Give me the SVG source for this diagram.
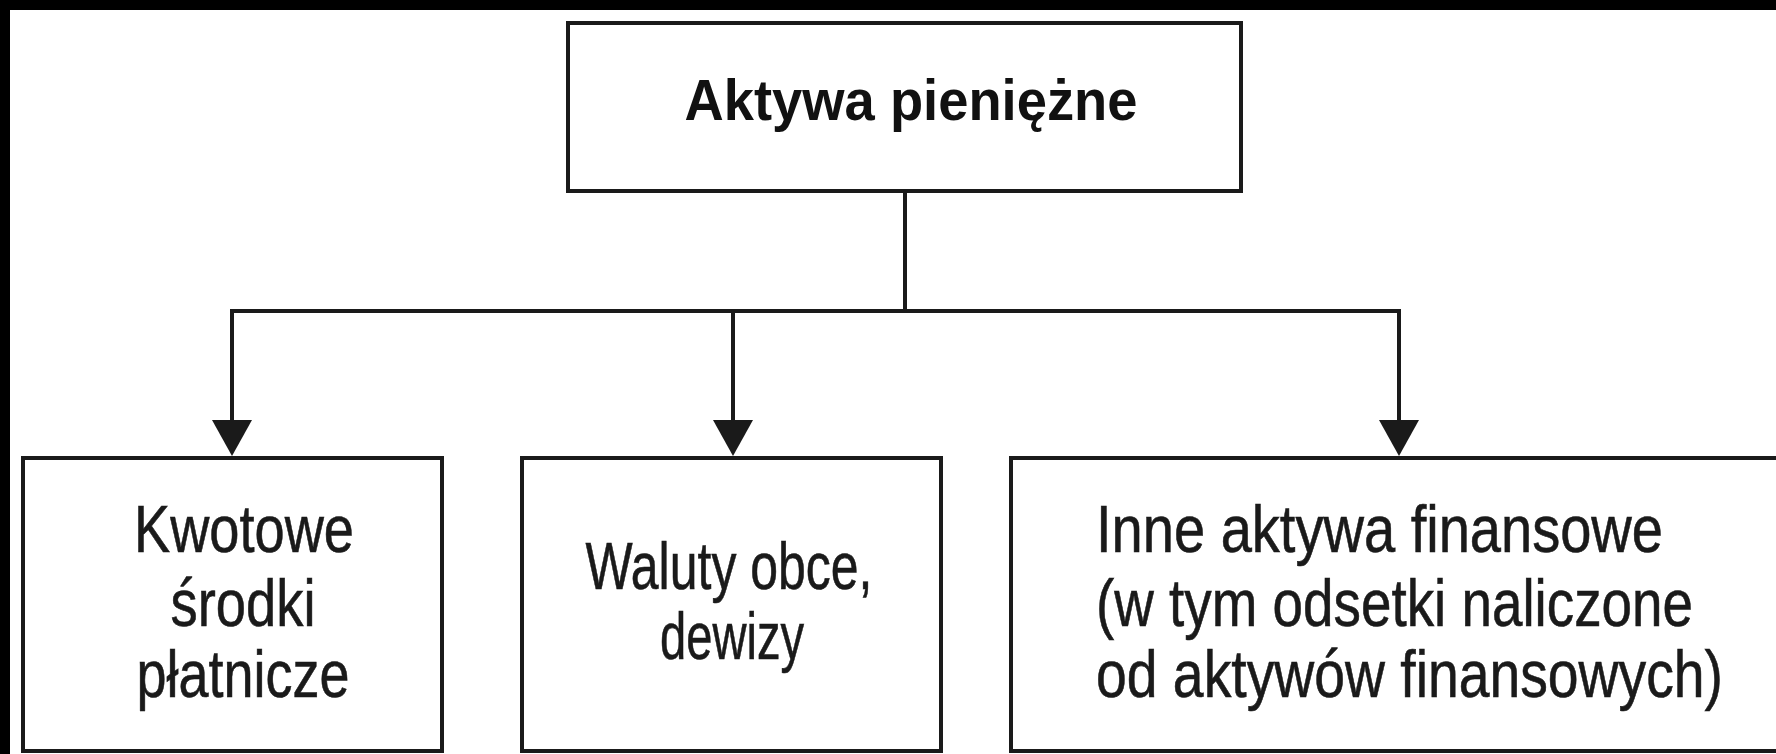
<svg xmlns="http://www.w3.org/2000/svg" width="1776" height="754" viewBox="0 0 1776 754">
  <style>
    .box { fill: #ffffff; stroke: #1a1a1a; stroke-width: 4; }
    .conn { fill: none; stroke: #1a1a1a; stroke-width: 4; }
    .t { font-family: "Liberation Sans", Arial, sans-serif; font-size: 66px; fill: #1a1a1a; stroke: #1a1a1a; stroke-width: 0.6; }
    .title { font-family: "Liberation Sans", Arial, sans-serif; font-size: 58px; font-weight: bold; fill: #111111; }
  </style>
  <defs>
    <marker id="arrow" viewBox="0 0 36 40" refX="20" refY="20" markerWidth="36" markerHeight="40" markerUnits="userSpaceOnUse" orient="auto">
      <path d="M0,0 L36,20 L0,40 z" fill="#1a1a1a"/>
    </marker>
  </defs>
  <rect x="0" y="0" width="1776" height="754" fill="#ffffff"/>
  <rect x="0" y="0" width="1776" height="10" fill="#000000"/>
  <rect x="0" y="0" width="10" height="754" fill="#000000"/>

  <g id="connectors">
    <path class="conn" d="M905,191 V311"/>
    <path class="conn" d="M230,311 H1401"/>
    <path class="conn" d="M232,311 V440" marker-end="url(#arrow)"/>
    <path class="conn" d="M733,311 V440" marker-end="url(#arrow)"/>
    <path class="conn" d="M1399,311 V440" marker-end="url(#arrow)"/>
  </g>

  <g id="node-aktywa">
    <rect class="box" x="568" y="23" width="673" height="168"/>
    <text class="title" x="911" y="120" text-anchor="middle" textLength="453" lengthAdjust="spacingAndGlyphs">Aktywa pieniężne</text>
  </g>

  <g id="node-kwotowe">
    <rect class="box" x="23" y="458" width="419" height="293"/>
    <text class="t" x="244" y="552" text-anchor="middle" textLength="220" lengthAdjust="spacingAndGlyphs">Kwotowe</text>
    <text class="t" x="243" y="626" text-anchor="middle" textLength="145" lengthAdjust="spacingAndGlyphs">środki</text>
    <text class="t" x="243" y="697" text-anchor="middle" textLength="213" lengthAdjust="spacingAndGlyphs">płatnicze</text>
  </g>

  <g id="node-waluty">
    <rect class="box" x="522" y="458" width="419" height="293"/>
    <text class="t" x="729" y="589" text-anchor="middle" textLength="287" lengthAdjust="spacingAndGlyphs">Waluty obce,</text>
    <text class="t" x="732" y="659" text-anchor="middle" textLength="144" lengthAdjust="spacingAndGlyphs">dewizy</text>
  </g>

  <g id="node-inne">
    <rect class="box" x="1011" y="458" width="820" height="293"/>
    <text class="t" x="1096" y="552" textLength="567" lengthAdjust="spacingAndGlyphs">Inne aktywa finansowe</text>
    <text class="t" x="1096" y="626" textLength="597" lengthAdjust="spacingAndGlyphs">(w tym odsetki naliczone</text>
    <text class="t" x="1096" y="697" textLength="627" lengthAdjust="spacingAndGlyphs">od aktywów finansowych)</text>
  </g>
</svg>
